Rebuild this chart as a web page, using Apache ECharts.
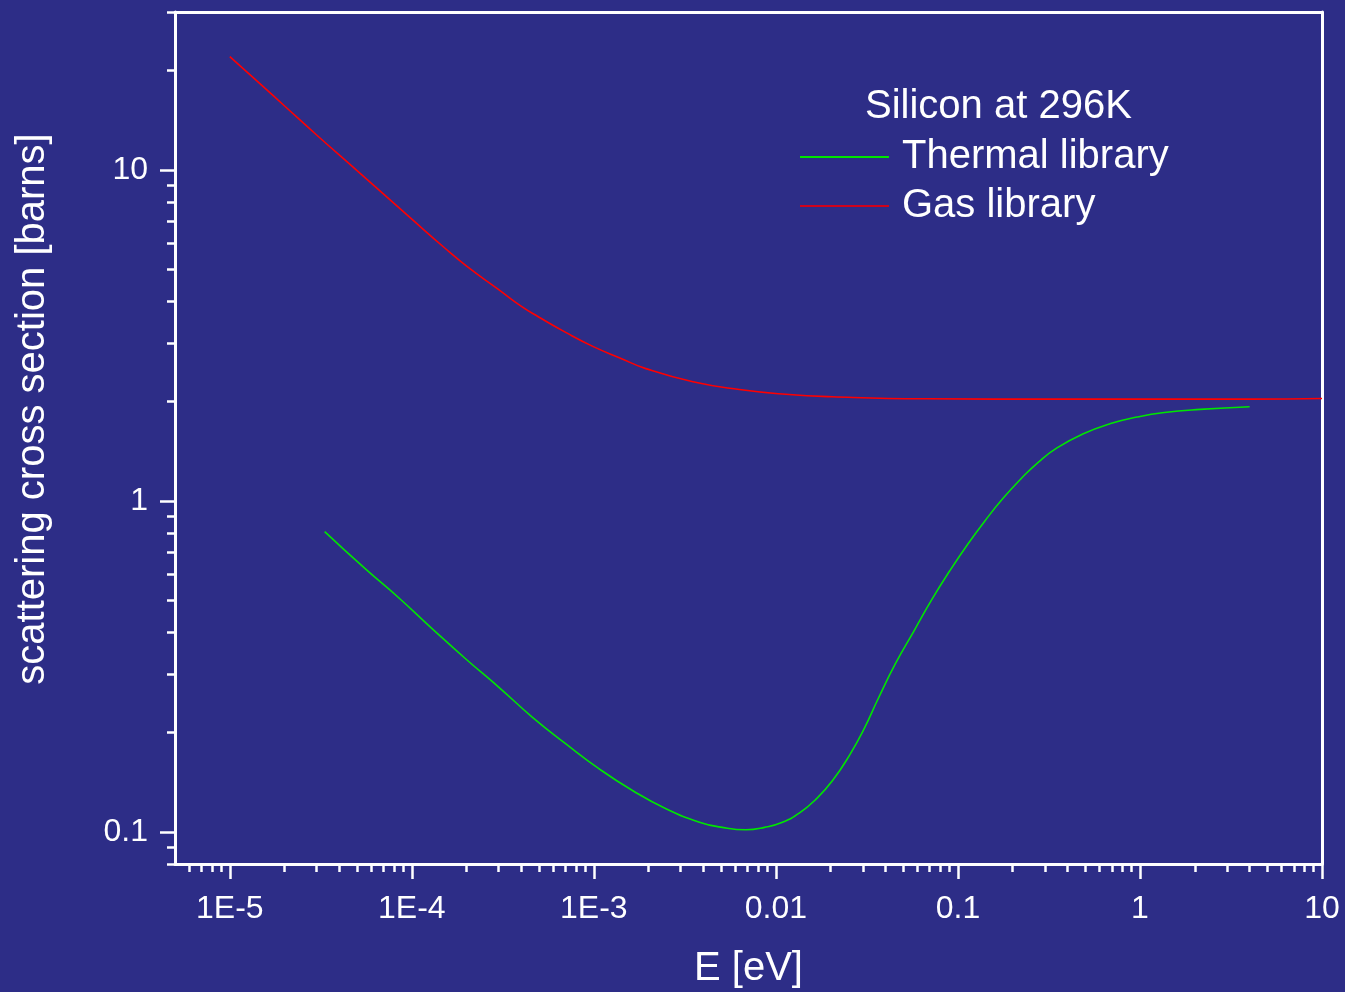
<!DOCTYPE html>
<html>
<head>
<meta charset="utf-8">
<title>Silicon scattering cross section</title>
<script src="https://cdn.jsdelivr.net/npm/echarts@6/dist/echarts.min.js"></script>
<style>
  html, body { margin: 0; padding: 0; background: #2d2d87; }
  #chart { width: 1345px; height: 992px; }
</style>
</head>
<body>
<div id="chart"></div>
<script>
// energy [eV] / cross section [barns]
var gasEnergy = [1e-5, 1.5e-5, 2e-5, 3e-5, 5e-5, 7e-5, 1e-4, 1.5e-4, 2e-4, 3e-4, 4e-4, 5e-4, 7e-4,
  1e-3, 1.4e-3, 1.93e-3, 3.5e-3, 6.3e-3, 1.13e-2, 2.04e-2, 6.6e-2, 0.39, 1, 4.1, 10];
var gasSigma = [22.0, 18.0, 15.6, 12.75, 9.95, 8.45, 7.1, 5.84, 5.12, 4.35, 3.87, 3.59, 3.23,
  2.92, 2.70, 2.51, 2.29, 2.17, 2.10, 2.064, 2.035, 2.03, 2.03, 2.03, 2.04];

var thermalEnergy = [3.32e-5, 5.58e-5, 8.5e-5, 1.3e-4, 1.98e-4, 3.02e-4, 4.6e-4, 7.02e-4, 1.07e-3,
  1.63e-3, 2.49e-3, 3.8e-3, 4.98e-3, 6.84e-3, 8.66e-3, 1.087e-2, 1.349e-2, 1.667e-2, 2.048e-2,
  2.54e-2, 3.05e-2, 3.65e-2, 4.55e-2, 5.74e-2, 7.18e-2, 9.02e-2, 0.1132, 0.1416, 0.1774,
  0.2228, 0.278, 0.35, 0.485, 0.69, 0.963, 1.36, 2.14, 4.0];
var thermalSigma = [0.808, 0.622, 0.509, 0.410, 0.333, 0.273, 0.222, 0.1845, 0.155,
  0.1334, 0.1175, 0.107, 0.1034, 0.1015, 0.1032, 0.1070, 0.1141, 0.1258, 0.1430,
  0.1707, 0.2048, 0.253, 0.3235, 0.405, 0.503, 0.615, 0.740, 0.8745, 1.020,
  1.169, 1.313, 1.447, 1.593, 1.713, 1.792, 1.849, 1.890, 1.925];

// axis ticks
var xMajor = [1e-5, 1e-4, 1e-3, 1e-2, 1e-1, 1, 10];
var xTickLabels = ['1E-5', '1E-4', '1E-3', '0.01', '0.1', '1', '10'];
var yMajor = [0.1, 1, 10];
var yTickLabels = ['0.1', '1', '10'];
var minorSteps = [2, 3, 4, 5, 6, 7, 8, 9];

function minorTicks(lo, hi) {
  var out = [];
  for (var d = Math.floor(Math.log10(lo)); d <= Math.ceil(Math.log10(hi)); d++) {
    for (var i = 0; i < minorSteps.length; i++) {
      var v = minorSteps[i] * Math.pow(10, d);
      if (v >= lo * 0.9999 && v <= hi * 1.0001) out.push(v);
    }
  }
  return out;
}

var xMin = 5e-6, xMax = 10;
var yMin = 0.08, yMax = 30;
var white = '#ffffff';
var font = 'Liberation Sans, Arial, sans-serif';

function pairs(xs, ys) {
  return xs.map(function (x, i) { return [x, ys[i]]; });
}
function labelOf(majors, labels) {
  return function (v) {
    for (var i = 0; i < majors.length; i++) {
      if (Math.abs(Math.log10(v) - Math.log10(majors[i])) < 1e-6) return labels[i];
    }
    return '';
  };
}

var chart = echarts.init(document.getElementById('chart'));
var option = {
  backgroundColor: '#2d2d87',
  animation: false,
  textStyle: { fontFamily: font },
  grid: { left: 175, right: 23, top: 12, bottom: 128, outerBoundsMode: 'none' },
  title: {
    text: 'Silicon at 296K',
    left: 860, top: 82,
    textStyle: { color: white, fontSize: 40, fontWeight: 'normal', fontFamily: font }
  },
  legend: {
    orient: 'vertical',
    left: 795, top: 132,
    itemWidth: 89, itemHeight: 2, itemGap: 9,
    icon: 'rect',
    textStyle: { color: white, fontSize: 40, padding: [0, 0, 0, 8], fontFamily: font },
    data: [
      { name: 'Thermal library' },
      { name: 'Gas library', itemStyle: { color: '#d0021b' } }
    ]
  },
  xAxis: [
    {
      type: 'log', logBase: 10, min: xMin, max: xMax, position: 'bottom',
      name: 'E [eV]', nameLocation: 'middle', nameGap: 85,
      nameTextStyle: { color: white, fontSize: 40 },
      axisLine: { show: true, lineStyle: { color: white, width: 3 } },
      axisTick: { show: true, customValues: xMajor, length: 15, lineStyle: { color: white, width: 2.5 } },
      axisLabel: { customValues: xMajor, formatter: labelOf(xMajor, xTickLabels), color: white, fontSize: 32, margin: 29 },
      splitLine: { show: false }, minorTick: { show: false }
    },
    {
      type: 'log', logBase: 10, min: xMin, max: xMax, position: 'bottom',
      axisLine: { show: false },
      axisTick: { show: true, customValues: minorTicks(xMin, xMax), length: 8, lineStyle: { color: white, width: 2.5 } },
      axisLabel: { show: false }, splitLine: { show: false }
    },
    {
      type: 'log', logBase: 10, min: xMin, max: xMax, position: 'top',
      axisLine: { show: true, lineStyle: { color: white, width: 3 } },
      axisTick: { show: false }, axisLabel: { show: false }, splitLine: { show: false }
    }
  ],
  yAxis: [
    {
      type: 'log', logBase: 10, min: yMin, max: yMax, position: 'left',
      name: 'scattering cross section [barns]', nameLocation: 'middle', nameGap: 122,
      nameTextStyle: { color: white, fontSize: 40, padding: [0, 0, 0, 58] },
      axisLine: { show: true, lineStyle: { color: white, width: 3 } },
      axisTick: { show: true, customValues: yMajor, length: 15, lineStyle: { color: white, width: 2.5 } },
      axisLabel: { customValues: yMajor, formatter: labelOf(yMajor, yTickLabels), color: white, fontSize: 32, margin: 27 },
      splitLine: { show: false }, minorTick: { show: false }
    },
    {
      type: 'log', logBase: 10, min: yMin, max: yMax, position: 'left',
      axisLine: { show: false },
      axisTick: { show: true, customValues: minorTicks(yMin, yMax), length: 8, lineStyle: { color: white, width: 2.5 } },
      axisLabel: { show: false }, splitLine: { show: false }
    },
    {
      type: 'log', logBase: 10, min: yMin, max: yMax, position: 'right',
      axisLine: { show: true, lineStyle: { color: white, width: 3 } },
      axisTick: { show: false }, axisLabel: { show: false }, splitLine: { show: false }
    }
  ],
  series: [
    {
      name: 'Thermal library', type: 'line', xAxisIndex: 0, yAxisIndex: 0,
      data: pairs(thermalEnergy, thermalSigma),
      showSymbol: false, symbol: 'none', smooth: 0.5,
      color: '#00e600',
      lineStyle: { color: '#00e600', width: 1.6 }
    },
    {
      name: 'Gas library', type: 'line', xAxisIndex: 0, yAxisIndex: 0,
      data: pairs(gasEnergy, gasSigma),
      showSymbol: false, symbol: 'none', smooth: 0.5,
      color: '#ff0000',
      lineStyle: { color: '#ff0000', width: 1.6 }
    }
  ]
};
chart.setOption(option);
</script>
</body>
</html>
